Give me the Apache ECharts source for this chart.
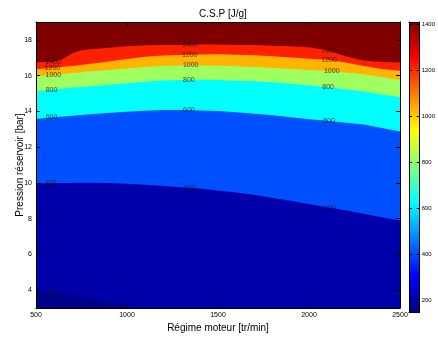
<!DOCTYPE html>
<html><head><meta charset="utf-8">
<script src="https://cdn.jsdelivr.net/npm/echarts@6/dist/echarts.min.js"></script>
<style>html,body{margin:0;padding:0;background:#fff}#c{width:438px;height:338px}</style>
</head><body><div id="c"></div>
<script>
// Engine speed samples (tr/min)
const speeds = [500,600,650,700,750,800,900,1000,1100,1200,1300,1400,1500,1600,1700,1800,1900,2000,2100,2200,2300,2400,2500];
// Pressure (bar) of each contour line at those speeds
const contour1400 = [16.73,16.77,16.95,17.25,17.42,17.48,17.56,17.64,17.70,17.71,17.72,17.74,17.74,17.72,17.71,17.67,17.64,17.59,17.42,17.09,16.84,16.76,16.73];
const contour1200 = [16.36,16.44,16.49,16.54,16.60,16.67,16.79,16.93,17.05,17.12,17.16,17.18,17.19,17.17,17.14,17.08,17.01,16.94,16.89,16.73,16.54,16.37,16.27];
const contour1000 = [15.96,16.04,16.09,16.14,16.19,16.24,16.32,16.40,16.48,16.54,16.57,16.57,16.55,16.52,16.48,16.43,16.37,16.32,16.26,16.18,16.07,15.93,15.76];
const contour800  = [15.13,15.23,15.28,15.33,15.37,15.41,15.49,15.57,15.66,15.73,15.76,15.77,15.75,15.72,15.69,15.63,15.55,15.46,15.35,15.24,15.11,14.95,14.80];
const contour600  = [13.57,13.67,13.71,13.76,13.80,13.84,13.91,13.98,14.03,14.07,14.07,14.05,14.02,13.95,13.87,13.78,13.67,13.56,13.48,13.37,13.26,13.07,12.87];
const contour400  = [9.97,9.99,10.00,10.00,10.01,10.01,9.99,9.95,9.90,9.83,9.76,9.68,9.57,9.46,9.33,9.16,9.00,8.82,8.64,8.47,8.27,8.08,7.90];
const speeds200   = [500,600,700,800,900,1000,1060];
const contour200  = [3.95,3.83,3.72,3.56,3.37,3.15,2.95];

const levels = [1400,1200,1000,800,600,400,200];
const contourData = {1400:contour1400,1200:contour1200,1000:contour1000,800:contour800,600:contour600,400:contour400,200:contour200};
const contourX = {1400:speeds,1200:speeds,1000:speeds,800:speeds,600:speeds,400:speeds,200:speeds200};
// colour of the band just below each contour line
const bandColor = {1400:'#FF2000',1200:'#FFB400',1000:'#A0FF60',800:'#00FFFF',600:'#0050FF',400:'#0000AA',200:'#000088'};
const topBandColor = '#800000';
// where the contour labels sit (speed)
const labelSpeeds = {1400:[595,1345,2110],1200:[590,1345,2110],1000:[595,1350,2125],800:[585,1340,2105],600:[585,1340,2110],400:[580,1345,2115],200:[600]};

const yTicks = [4,6,8,10,12,14,16,18];
const cbTicks = [200,400,600,800,1000,1200,1400];
const cbMin = 148, cbMax = 1410;
const jet = ['#000080','#0000FF','#0080FF','#00FFFF','#80FF80','#FFFF00','#FF8000','#FF0000','#800000'];

function interp(xa, ya, x){
  for(let i=0;i<xa.length-1;i++){
    if(x>=xa[i] && x<=xa[i+1]){const t=(x-xa[i])/(xa[i+1]-xa[i]);return ya[i]+t*(ya[i+1]-ya[i]);}
  }
  return ya[ya.length-1];
}

const FONT = 'Liberation Sans';
const plain = v => String(v);
const series = [];
levels.forEach(L=>{
  series.push({
    type:'line', xAxisIndex:0, yAxisIndex:0, symbol:'none', silent:true,
    data: contourX[L].map((x,i)=>[x, contourData[L][i]]),
    lineStyle:{width:0}, areaStyle:{color:bandColor[L], opacity:1, origin:'start'}
  });
});
const labelData = [];
levels.forEach(L=>{
  labelSpeeds[L].forEach(x=>{
    labelData.push({value:[x, interp(contourX[L], contourData[L], x), L]});
  });
});
series.push({
  type:'scatter', xAxisIndex:0, yAxisIndex:0, symbolSize:0, silent:true, z:5,
  data: labelData,
  label:{show:true, position:'inside', formatter:p=>String(p.value[2]), fontFamily:FONT, fontSize:7, color:'#1a1a1a'}
});
// colorbar
series.push({
  type:'custom', xAxisIndex:2, yAxisIndex:2, silent:true, clip:false,
  data:[[0, cbMin, cbMax]],
  renderItem:(params, api)=>{
    const pTop = api.coord([0, api.value(2)]);
    const pBot = api.coord([1, api.value(1)]);
    const stops = jet.map((c,i)=>({offset:1 - i/(jet.length-1), color:c})).reverse();
    return {type:'rect', shape:{x:pTop[0], y:pTop[1], width:pBot[0]-pTop[0], height:pBot[1]-pTop[1]},
      style:{fill:new echarts.graphic.LinearGradient(0,0,0,1,stops)}};
  }
});

const tickStyle = {show:true, inside:true, length:4, lineStyle:{color:'#000', width:1}};
const lineStyle = {show:true, onZero:false, lineStyle:{color:'#000', width:1}};
const option = {
  animation:false,
  backgroundColor:'#fff',
  title:{text:'C.S.P [J/g]', left:218, textAlign:'center', top:4, textStyle:{fontFamily:FONT, fontSize:10, fontWeight:'normal', color:'#000'}},
  grid:[
    {left:36, top:22, width:364, height:290, show:true, backgroundColor:topBandColor, borderWidth:0},
    {left:409, top:22, width:13, height:290, show:false}
  ],
  xAxis:[
    {type:'value', gridIndex:0, min:500, max:2500, interval:500, position:'bottom', z:10,
     axisLine:lineStyle, axisTick:tickStyle, splitLine:{show:false},
     axisLabel:{fontFamily:FONT, fontSize:7, color:'#000', margin:4, formatter:plain},
     name:'Régime moteur [tr/min]', nameLocation:'middle', nameGap:15, nameMoveOverlap:false,
     nameTextStyle:{fontFamily:FONT, fontSize:10, color:'#000'}},
    {type:'value', gridIndex:0, min:500, max:2500, interval:500, position:'top', z:10,
     axisLine:lineStyle, axisTick:tickStyle, splitLine:{show:false}, axisLabel:{show:false}},
    {type:'value', gridIndex:1, min:0, max:1, position:'bottom', z:10,
     axisLine:lineStyle, axisTick:{show:false}, splitLine:{show:false}, axisLabel:{show:false}},
    {type:'value', gridIndex:1, min:0, max:1, position:'top', z:10,
     axisLine:lineStyle, axisTick:{show:false}, splitLine:{show:false}, axisLabel:{show:false}}
  ],
  yAxis:[
    {type:'value', gridIndex:0, min:3, max:19, position:'left', z:10,
     axisLine:lineStyle, axisTick:Object.assign({customValues:yTicks}, tickStyle), splitLine:{show:false},
     axisLabel:{customValues:yTicks, fontFamily:FONT, fontSize:7, color:'#000', margin:4, formatter:plain},
     name:'Pression réservoir [bar]', nameLocation:'middle', nameGap:11, nameMoveOverlap:false,
     nameTextStyle:{fontFamily:FONT, fontSize:10, color:'#000'}},
    {type:'value', gridIndex:0, min:3, max:19, position:'right', z:10,
     axisLine:lineStyle, axisTick:Object.assign({customValues:yTicks}, tickStyle), splitLine:{show:false},
     axisLabel:{show:false}},
    {type:'value', gridIndex:1, min:cbMin, max:cbMax, position:'right', z:10,
     axisLine:lineStyle, axisTick:Object.assign({customValues:cbTicks}, tickStyle, {length:3}), splitLine:{show:false},
     axisLabel:{customValues:cbTicks, fontFamily:FONT, fontSize:6, color:'#000', margin:2, formatter:plain}},
    {type:'value', gridIndex:1, min:cbMin, max:cbMax, position:'left', z:10,
     axisLine:lineStyle, axisTick:Object.assign({customValues:cbTicks}, tickStyle, {length:3}), splitLine:{show:false},
     axisLabel:{show:false}}
  ],
  series: series
};
const chart = echarts.init(document.getElementById('c'), null, {renderer:'canvas'});
chart.setOption(option);
</script>
</body></html>
